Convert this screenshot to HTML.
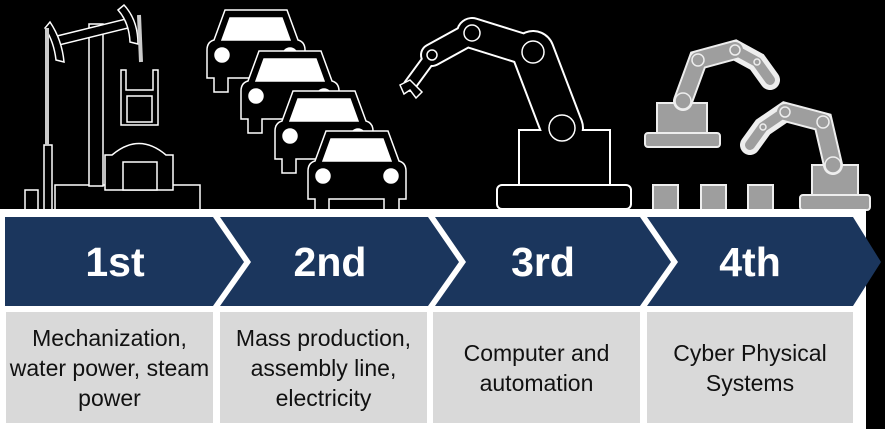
<!DOCTYPE html>
<html><head><meta charset="utf-8"><style>
html,body{margin:0;padding:0;background:#000;}
body{width:885px;height:429px;position:relative;overflow:hidden;font-family:"Liberation Sans",sans-serif;}
svg{position:absolute;left:0;top:0;}
.box{position:absolute;top:312px;height:111px;background:#d9d9d9;color:#111;font-size:23px;line-height:30px;text-align:center;display:flex;align-items:center;justify-content:center;white-space:nowrap;}
.num{position:absolute;top:238px;color:#fff;font-weight:bold;font-size:41px;line-height:48px;text-align:center;width:150px;}
</style></head><body>
<svg width="885" height="429" viewBox="0 0 885 429">
<rect x="0" y="210" width="866" height="219" fill="#fff"/>
<g fill="#1b365d">
<polygon points="5,217 213,217 244,262 213,306 5,306"/>
<polygon points="220,217 428,217 459,262 428,306 220,306 251,262"/>
<polygon points="435,217 640,217 671,262 640,306 435,306 466,262"/>
<polygon points="647,217 853,217 881,262 853,306 647,306 678,262"/>
</g>
<g stroke="#fff" stroke-width="1.5" fill="#000">
<rect x="25" y="190" width="13" height="20"/>
<rect x="55" y="185" width="145" height="25"/>
<rect x="89" y="24" width="14" height="162"/>
<rect x="44" y="145" width="8" height="68"/>
<polygon points="57,36 130,18 132,27 59,45"/>
<path d="M50,22 Q62,40 64,62 L56,60 Q54,42 45,28 Z"/>
<path d="M124,5 Q138,20 138,44 L130,42 Q129,22 118,10 Z"/>
<path d="M121,70 L126,70 L126,90 L153,90 L153,70 L158,70 L158,125 L121,125 Z"/>
<rect x="127" y="96" width="25" height="26"/>
<path d="M105,190 L105,155 L112,155 Q139,132 166,155 L173,155 L173,190 Z"/>
<rect x="123" y="162" width="34" height="28"/>
</g>
<g stroke="#ccc" stroke-width="4" fill="none"><line x1="47" y1="28" x2="47" y2="145"/><line x1="139" y1="15" x2="141" y2="62"/></g>
<g id="car" stroke="#fff" stroke-width="1.5">
<path d="M225,10 L287,10 L298,40 Q305,42 305,50 L305,78 L298,78 L298,92 L283,92 L283,78 L228,78 L228,92 L214,92 L214,78 L207,78 L207,50 Q207,42 214,40 Z" fill="#000"/>
<polygon points="230,18 282,18 290,40 222,40" fill="#fff"/>
<circle cx="222" cy="55" r="7" fill="#fff"/><circle cx="290" cy="55" r="7" fill="#fff"/>
</g>
<use href="#car" x="34" y="41"/>
<use href="#car" x="68" y="81"/>
<use href="#car" x="101" y="121"/>
<g stroke-linecap="round" fill="none">
<g stroke="#fff"><line x1="562" y1="128" x2="533" y2="52" stroke-width="44"/><line x1="533" y1="52" x2="472" y2="33" stroke-width="32"/><line x1="472" y1="33" x2="432" y2="55" stroke-width="24"/><line x1="432" y1="55" x2="410" y2="85" stroke-width="14"/></g>
</g>
<rect x="519" y="130" width="91" height="56" fill="#000" stroke="#fff" stroke-width="2"/>
<rect x="497" y="185" width="134" height="24" rx="5" fill="#000" stroke="#fff" stroke-width="2"/>
<g stroke-linecap="round" fill="none" stroke="#000"><line x1="562" y1="128" x2="533" y2="52" stroke-width="40"/><line x1="533" y1="52" x2="472" y2="33" stroke-width="28"/><line x1="472" y1="33" x2="432" y2="55" stroke-width="20"/><line x1="432" y1="55" x2="410" y2="85" stroke-width="10"/></g>
<path d="M400,85 L410,80 L422,92 L416,98 L410,90 L404,94 Z" fill="#000" stroke="#fff" stroke-width="1.5"/>
<g fill="none" stroke="#fff" stroke-width="1.5"><circle cx="562" cy="128" r="13"/><circle cx="533" cy="52" r="11"/><circle cx="472" cy="33" r="8"/><circle cx="432" cy="55" r="5"/></g>
<g fill="#9e9e9e" stroke="#eee" stroke-width="2">
<rect x="653" y="185" width="25" height="25"/><rect x="701" y="185" width="25" height="25"/><rect x="748" y="185" width="25" height="25"/>
<rect x="657" y="103" width="50" height="31"/><rect x="645" y="133" width="75" height="14" rx="3"/>
<rect x="812" y="165" width="46" height="31"/><rect x="800" y="195" width="70" height="15" rx="3"/>
</g>
<g stroke-linecap="round" fill="none" stroke="#eee">
<polyline points="683,101 698,60 735,50 757,62 770,80" stroke-width="20"/>
<polyline points="833,165 823,122 785,112 763,127 750,145" stroke-width="20"/>
</g>
<g stroke-linecap="round" stroke-linejoin="round" fill="none" stroke="#9e9e9e">
<polyline points="683,101 698,60 735,50" stroke-width="16"/><polyline points="735,50 757,62 770,80" stroke-width="10"/>
<polyline points="833,165 823,122 785,112" stroke-width="16"/><polyline points="785,112 763,127 750,145" stroke-width="10"/>
</g>
<g fill="none" stroke="#eee" stroke-width="1.5"><circle cx="683" cy="101" r="8"/><circle cx="698" cy="60" r="6"/><circle cx="735" cy="50" r="5"/><circle cx="757" cy="62" r="3"/><circle cx="833" cy="165" r="8"/><circle cx="823" cy="122" r="6"/><circle cx="785" cy="112" r="5"/><circle cx="763" cy="127" r="3"/></g>
<rect x="0" y="209" width="866" height="5" fill="#fff"/>
</svg>
<div class="num" style="left:40px">1st</div>
<div class="num" style="left:255px">2nd</div>
<div class="num" style="left:468px">3rd</div>
<div class="num" style="left:675px">4th</div>
<div class="box" style="left:6px;width:207px">Mechanization,<br>water power, steam<br>power</div>
<div class="box" style="left:220px;width:207px">Mass production,<br>assembly line,<br>electricity</div>
<div class="box" style="left:433px;width:207px">Computer and<br>automation</div>
<div class="box" style="left:647px;width:206px">Cyber Physical<br>Systems</div>
</body></html>
